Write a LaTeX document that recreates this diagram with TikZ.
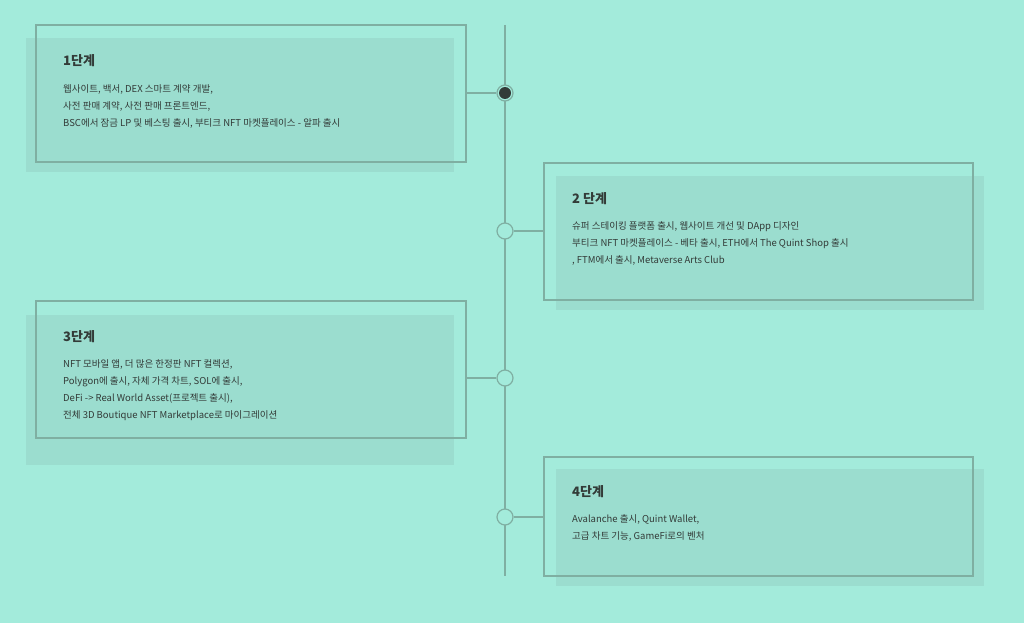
\documentclass[tikz,border=0pt]{standalone}
\usepackage{fontspec}
\setmainfont{Noto Sans CJK KR}
\definecolor{bg}{HTML}{A3EBDB}
\definecolor{fillc}{HTML}{9BDDCF}
\definecolor{linec}{HTML}{7FAFA2}
\definecolor{txt}{HTML}{333B38}
\tikzset{
 shade/.style={fill=fillc,draw=none},
 frame/.style={draw=linec,line width=1.2pt},
 conn/.style={draw=linec,line width=1.2pt},
 dot/.style={circle,draw=linec,line width=1.2pt,fill=bg,minimum size=16pt,inner sep=0pt},
 ttl/.style={anchor=north west,inner sep=0pt,text=txt,font=\fontsize{13}{15}\selectfont\bfseries},
 body/.style={anchor=north west,inner sep=0pt,text=txt,align=left,font=\fontsize{9.5}{17}\selectfont}
}
\begin{document}
\begin{tikzpicture}[x=1pt,y=-1pt]
\fill[bg] (0,0) rectangle (1024,623);
\useasboundingbox (0,0) rectangle (1024,623);
\draw[conn] (505,25) -- (505,576);
% box 1
\fill[shade] (26,38) rectangle (454,172);
\draw[frame] (36,25) rectangle (466,162);
\node[ttl] (t1) at (63,54) {1단계};
\node[body] (b1) at (63,84) {웹사이트, 백서, DEX 스마트 계약 개발,\\사전 판매 계약, 사전 판매 프론트엔드,\\BSC에서 잠금 LP 및 베스팅 출시, 부티크 NFT 마켓플레이스 - 알파 출시};
\node[dot] (c1) at (505,93) {};
\fill[txt] (c1) circle (6pt);
\coordinate (e1) at (466,93);
\draw[conn] (e1) -- (c1);
% box 2
\fill[shade] (556,176) rectangle (984,310);
\draw[frame] (544,163) rectangle (973,300);
\node[ttl] (t2) at (572,192) {2 단계};
\node[body] (b2) at (572,221) {슈퍼 스테이킹 플랫폼 출시, 웹사이트 개선 및 DApp 디자인\\부티크 NFT 마켓플레이스 - 베타 출시, ETH에서 The Quint Shop 출시\\, FTM에서 출시, Metaverse Arts Club};
\node[dot] (c2) at (505,231) {};
\coordinate (e2) at (544,231);
\draw[conn] (c2) -- (e2);
% box 3
\fill[shade] (26,315) rectangle (454,465);
\draw[frame] (36,301) rectangle (466,438);
\node[ttl] (t3) at (63,330) {3단계};
\node[body] (b3) at (63,359) {NFT 모바일 앱, 더 많은 한정판 NFT 컬렉션,\\Polygon에 출시, 자체 가격 차트, SOL에 출시,\\DeFi -> Real World Asset(프로젝트 출시),\\전체 3D Boutique NFT Marketplace로 마이그레이션};
\node[dot] (c3) at (505,378) {};
\coordinate (e3) at (466,378);
\draw[conn] (e3) -- (c3);
% box 4
\fill[shade] (556,469) rectangle (984,586);
\draw[frame] (544,457) rectangle (973,576);
\node[ttl] (t4) at (572,485) {4단계};
\node[body] (b4) at (572,514) {Avalanche 출시, Quint Wallet,\\고급 차트 기능, GameFi로의 벤처};
\node[dot] (c4) at (505,517) {};
\coordinate (e4) at (544,517);
\draw[conn] (c4) -- (e4);
\end{tikzpicture}
\end{document}
